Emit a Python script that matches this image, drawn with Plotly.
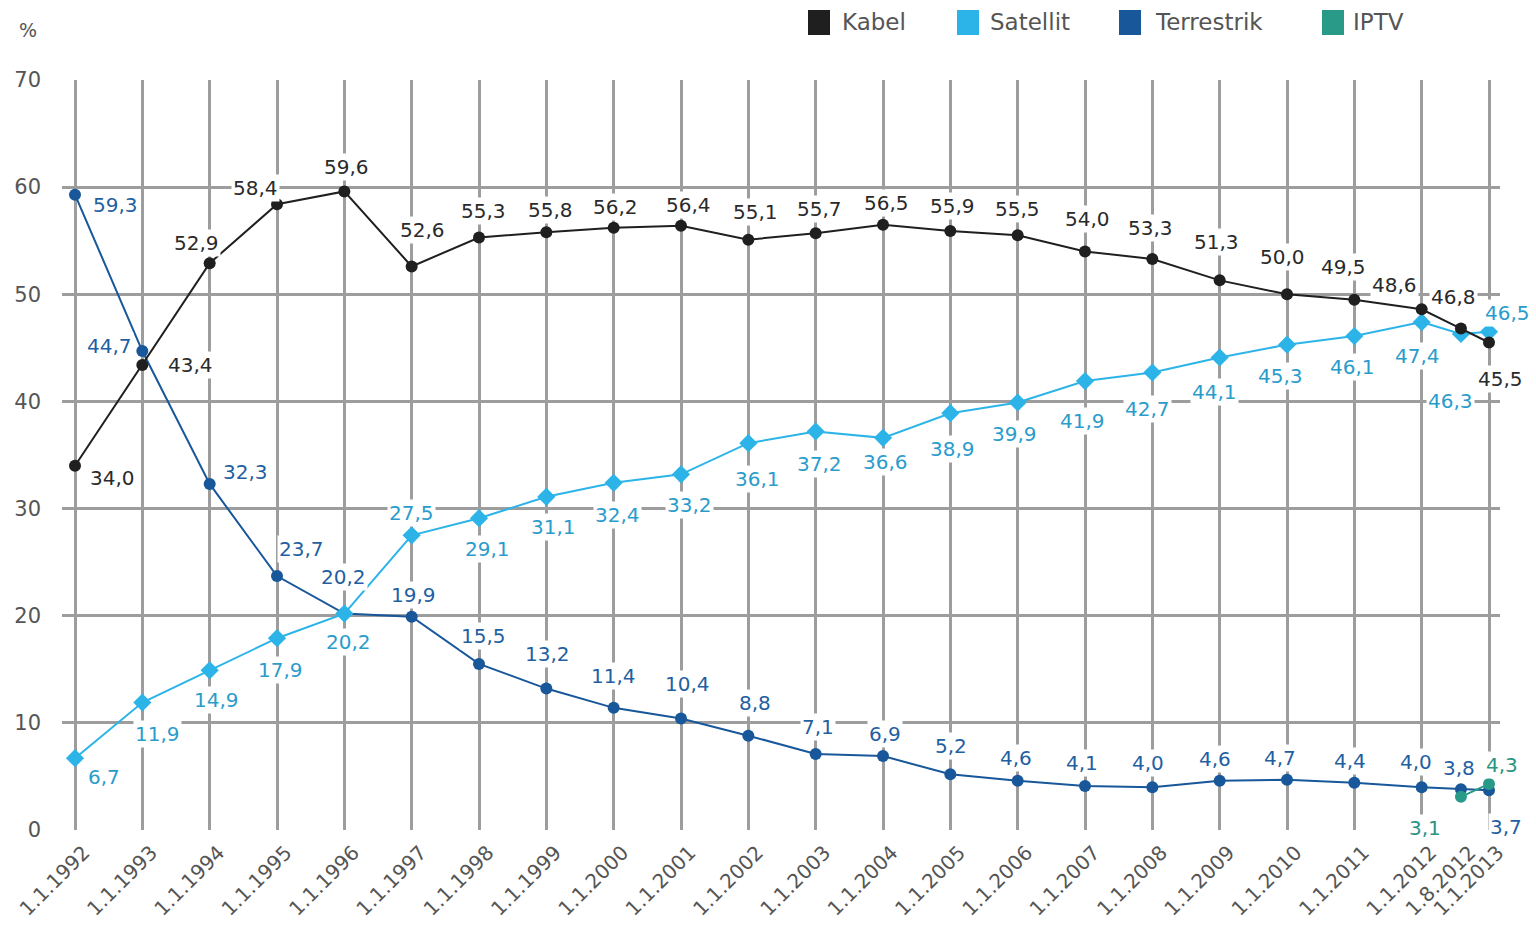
import plotly.graph_objects as go

# Stichtage und Anteile der Empfangswege (in %)
stichtage = [
    "1.1.1992", "1.1.1993", "1.1.1994", "1.1.1995", "1.1.1996", "1.1.1997",
    "1.1.1998", "1.1.1999", "1.1.2000", "1.1.2001", "1.1.2002", "1.1.2003",
    "1.1.2004", "1.1.2005", "1.1.2006", "1.1.2007", "1.1.2008", "1.1.2009",
    "1.1.2010", "1.1.2011", "1.1.2012", "1.8.2012", "1.1.2013",
]
kabel = [34.0, 43.4, 52.9, 58.4, 59.6, 52.6, 55.3, 55.8, 56.2, 56.4, 55.1, 55.7,
         56.5, 55.9, 55.5, 54.0, 53.3, 51.3, 50.0, 49.5, 48.6, 46.8, 45.5]
satellit = [6.7, 11.9, 14.9, 17.9, 20.2, 27.5, 29.1, 31.1, 32.4, 33.2, 36.1, 37.2,
            36.6, 38.9, 39.9, 41.9, 42.7, 44.1, 45.3, 46.1, 47.4, 46.3, 46.5]
terrestrik = [59.3, 44.7, 32.3, 23.7, 20.2, 19.9, 15.5, 13.2, 11.4, 10.4, 8.8, 7.1,
              6.9, 5.2, 4.6, 4.1, 4.0, 4.6, 4.7, 4.4, 4.0, 3.8, 3.7]
iptv_stichtage = ["1.8.2012", "1.1.2013"]
iptv = [3.1, 4.3]

y_ticks = [0, 10, 20, 30, 40, 50, 60, 70]

# Farben: (Linie/Marker, Beschriftung)
FARBE = {
    "Kabel": ("#1f1f1f", "#2a2a2a"),
    "Satellit": ("#2cb4e8", "#2a9ccc"),
    "Terrestrik": ("#17579a", "#1f5fa2"),
    "IPTV": ("#2a9a88", "#2a9482"),
}

# Versatz der Wertbeschriftungen (dx nach rechts, dy nach unten, in Pixel)
off_kabel = [(37, 12), (48, 0), (-13, -20), (-22, -16), (2, -24), (11, -36), (4, -27),
             (4, -22), (2, -21), (7, -21), (7, -28), (4, -24), (3, -22), (2, -25),
             (0, -26), (2, -32), (-2, -31), (-3, -38), (-5, -37), (-11, -33),
             (-27, -24), (-7, -32), (11, 36)]
off_sat = [(29, 19), (15, 31), (7, 30), (3, 32), (4, 28), (0, -22), (8, 31), (7, 30),
           (4, 32), (8, 31), (9, 36), (4, 33), (2, 24), (2, 36), (-3, 31), (-3, 40),
           (-5, 36), (-5, 34), (-7, 31), (-2, 31), (-4, 34), (-10, 67), (18, -19)]
off_ter = [(40, 10), (-33, -5), (36, -12), (24, -27), (-1, -37), (2, -22), (4, -28),
           (1, -35), (0, -32), (6, -35), (7, -33), (2, -27), (2, -22), (1, -28),
           (-2, -23), (-3, -23), (-4, -24), (-5, -22), (-7, -22), (-4, -22),
           (-6, -25), (-2, -21), (17, 37)]
off_iptv = [(-36, 31), (13, -19)]


def dezimaljahr(s):
    d, m, y = (int(p) for p in s.split("."))
    return y + (m - 1) / 12


x = [dezimaljahr(s) for s in stichtage]
x_iptv = [dezimaljahr(s) for s in iptv_stichtage]
jahre = [v for v in x if v == int(v)]

# Zeichenfläche in Pixel
W, H = 1536, 937
L, R, T, B = 62, 36, 80, 107
PX_PRO_JAHR = (1489 - 75) / 21
x0 = 1992 - (75 - L) / PX_PRO_JAHR
x1 = x0 + (W - L - R) / PX_PRO_JAHR


def px(xp):
    return (xp - L) / (W - L - R)


def py(yp):
    return (H - B - yp) / (H - T - B)


FONT = "DejaVu Sans"

fig = go.Figure()

reihen = [
    ("Terrestrik", x, terrestrik, "circle", 12, off_ter),
    ("Satellit", x, satellit, "diamond", 14, off_sat),
    ("Kabel", x, kabel, "circle", 12, off_kabel),
    ("IPTV", x_iptv, iptv, "circle", 12, off_iptv),
]

annotations = []
for name, xs, ys, sym, size, offs in reihen:
    linie, text = FARBE[name]
    fig.add_trace(go.Scatter(
        x=xs, y=ys, name=name, mode="lines+markers",
        line=dict(color=linie, width=2),
        marker=dict(color=linie, size=size, symbol=sym),
        showlegend=False,
    ))
    for xv, yv, (dx, dy) in zip(xs, ys, offs):
        annotations.append(dict(
            x=xv, y=yv, xref="x", yref="y", showarrow=False,
            text=f"{yv:.1f}".replace(".", ","),
            xshift=dx, yshift=-dy,
            font=dict(family=FONT, size=20, color=text),
            bgcolor="white", borderpad=1,
        ))

# leere Spur, damit die Beschriftungsachse der Stichtage gezeichnet wird
fig.add_trace(go.Scatter(x=x, y=[None] * len(x), xaxis="x2", yaxis="y",
                         mode="markers", showlegend=False, hoverinfo="skip"))

# Legende
shapes = []
legende = [("Kabel", 808, 840), ("Satellit", 957, 988),
           ("Terrestrik", 1119, 1153), ("IPTV", 1322, 1351)]
for name, qx, tx in legende:
    shapes.append(dict(type="rect", xref="paper", yref="paper",
                       x0=px(qx), x1=px(qx + 22), y0=py(35), y1=py(10),
                       fillcolor=FARBE[name][0], line=dict(width=0)))
    annotations.append(dict(x=px(tx), y=py(22), xref="paper", yref="paper",
                            xanchor="left", yanchor="middle", showarrow=False,
                            text=name, font=dict(family=FONT, size=23, color="#555555")))

annotations.append(dict(x=px(28), y=py(30), xref="paper", yref="paper",
                        xanchor="center", yanchor="middle", showarrow=False,
                        text="%", font=dict(family=FONT, size=19, color="#555555")))

fig.update_layout(
    width=W, height=H,
    margin=dict(l=L, r=R, t=T, b=B, pad=0),
    paper_bgcolor="white", plot_bgcolor="white",
    showlegend=False,
    xaxis=dict(
        range=[x0, x1], tickmode="array", tickvals=jahre, showticklabels=False,
        showgrid=True, gridcolor="#9d9d9d", gridwidth=3, zeroline=False,
        showline=False, ticks="",
    ),
    xaxis2=dict(
        range=[x0, x1], overlaying="x", anchor="y", side="bottom",
        tickmode="array", tickvals=x, ticktext=stichtage, tickangle=-45,
        showgrid=False, zeroline=False, showline=False, ticks="",
        ticklabelstandoff=6, ticklabelshift=9,
        tickfont=dict(family=FONT, size=20, color="#555555"),
    ),
    yaxis=dict(
        range=[0, 70], tickmode="array", tickvals=y_ticks,
        showgrid=True, gridcolor="#9d9d9d", gridwidth=3, zeroline=False,
        showline=False, ticks="", ticklabelstandoff=20,
        tickfont=dict(family=FONT, size=21, color="#555555"),
    ),
    annotations=annotations,
    shapes=shapes,
)

fig.write_html("out.html")
